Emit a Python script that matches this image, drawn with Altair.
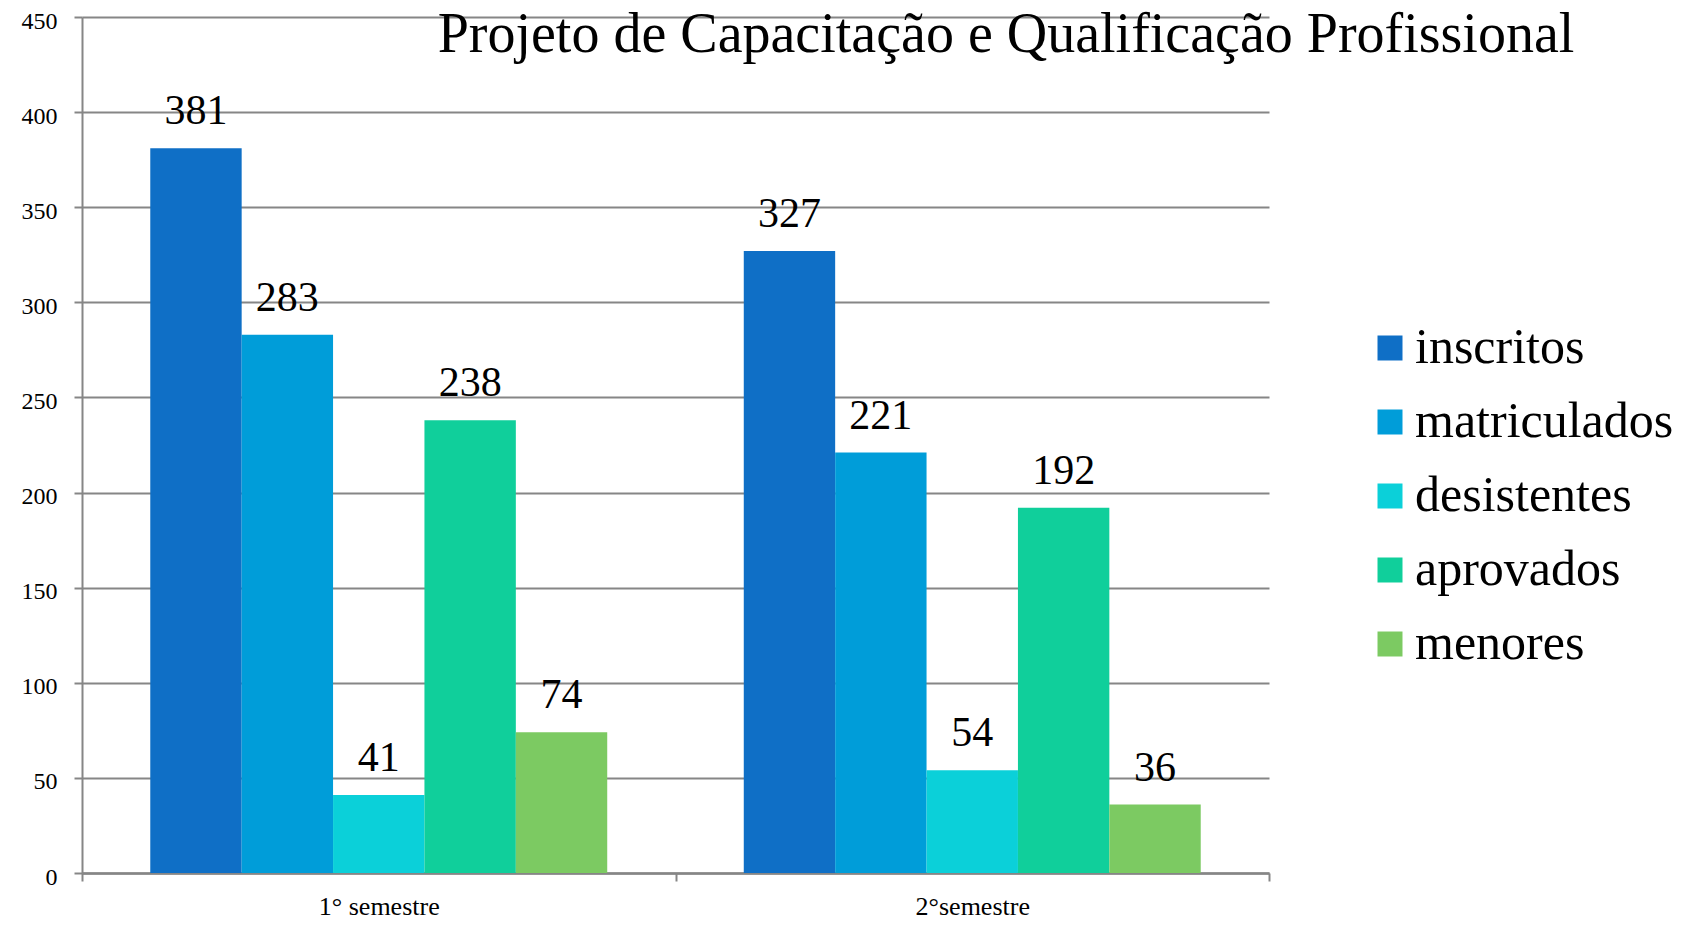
import altair as alt
import pandas as pd

semestres = ["1° semestre", "2°semestre"]
series = ["inscritos", "matriculados", "desistentes", "aprovados", "menores"]
valores_1 = [381, 283, 41, 238, 74]
valores_2 = [327, 221, 54, 192, 36]
cores = ["#0F6FC6", "#009DD9", "#0BD0D9", "#10CF9B", "#7CCA62"]
y_ticks = [0, 50, 100, 150, 200, 250, 300, 350, 400, 450]
titulo = "Projeto de Capacitação e Qualificação Profissional"

rows = []
for sem, vals in zip(semestres, [valores_1, valores_2]):
    for s, v in zip(series, vals):
        rows.append({"semestre": sem, "serie": s, "valor": v})
df = pd.DataFrame(rows)

FONT = "Liberation Serif"
GRAY = "#868686"

x_enc = alt.X(
    "semestre:N",
    sort=semestres,
    scale=alt.Scale(paddingInner=0, paddingOuter=0),
    axis=alt.Axis(
        title=None,
        labelAngle=0,
        labelFont=FONT,
        labelFontSize=26,
        labelColor="black",
        labelPadding=12,
        tickBand="extent",
        tickSize=8,
        tickColor=GRAY,
        tickWidth=2,
        domainColor=GRAY,
        domainWidth=2.5,
        grid=False,
    ),
)
xoff = alt.XOffset(
    "serie:N", sort=series, scale=alt.Scale(paddingInner=0, paddingOuter=0.747)
)
y_enc = alt.Y(
    "valor:Q",
    scale=alt.Scale(domain=[0, 450], nice=False),
    axis=alt.Axis(
        title=None,
        values=y_ticks,
        labelFont=FONT,
        labelFontSize=24,
        labelColor="black",
        labelPadding=17,
        labelOffset=4,
        tickSize=8,
        tickColor=GRAY,
        tickWidth=2,
        grid=True,
        gridColor=GRAY,
        gridWidth=2,
        domainColor=GRAY,
        domainWidth=2,
    ),
)

base = alt.Chart(df)

bars = base.mark_bar().encode(
    x=x_enc,
    xOffset=xoff,
    y=y_enc,
    color=alt.Color(
        "serie:N",
        sort=series,
        scale=alt.Scale(domain=series, range=cores),
        legend=alt.Legend(
            title=None,
            orient="none",
            legendX=1283,
            legendY=306,
            symbolType="square",
            symbolSize=625,
            symbolStrokeWidth=0,
            labelFont=FONT,
            labelFontSize=50,
            labelColor="black",
            labelOffset=0,
            labelLimit=0,
            rowPadding=24,
        ),
    ),
)

labels = base.mark_text(
    baseline="alphabetic", dy=-24, font=FONT, fontSize=42, color="black"
).encode(x=x_enc, xOffset=xoff, y=y_enc, text="valor:Q")

title_df = pd.DataFrame({"t": [titulo]})
title_layer = alt.Chart(title_df).mark_text(
    font=FONT, fontSize=56, color="black", baseline="alphabetic", align="center"
).encode(x=alt.value(924), y=alt.value(35), text="t:N")

chart = (
    alt.layer(bars, labels, title_layer)
    .properties(
        width=1187,
        height=856,
        autosize=alt.AutoSizeParams(type="none"),
        padding={"left": 74, "top": 9, "right": 417, "bottom": 46},
        background="white",
    )
    .configure_view(stroke=None)
)

chart.save("out.html", embed_options={"renderer": "svg", "actions": False})
